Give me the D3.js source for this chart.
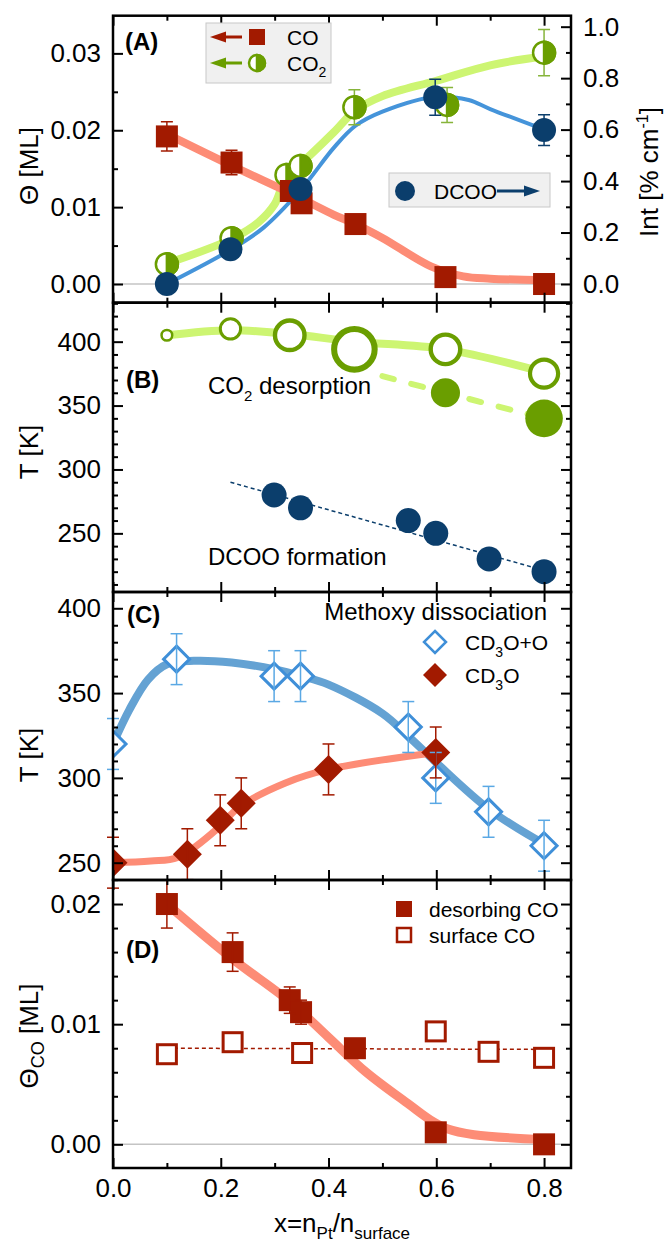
<!DOCTYPE html>
<html>
<head>
<meta charset="utf-8">
<script src="https://cdn.jsdelivr.net/npm/d3@7"></script>
<style>
  body { margin: 0; background: #fff; }
  svg { font-family: "Liberation Sans", Arial, sans-serif; }
</style>
</head>
<body>
<svg id="chart"></svg>
<script>
//Data - panel A (coverage + DCOO intensity)
const coX = [0.1, 0.22, 0.33, 0.35, 0.45, 0.617, 0.8];
const coTheta = [0.0192, 0.0158, 0.0121, 0.0105, 0.0078, 0.0009, 0.0];
const coErr = [0.0019, 0.0016, 0, 0, 0, 0, 0];
const coFitX = [0.1, 0.22, 0.33, 0.41, 0.45, 0.5, 0.59, 0.65, 0.7, 0.8];
const coFitY = [0.0195, 0.0154, 0.0118, 0.0090, 0.0078, 0.0060, 0.0023, 0.0010, 0.0007, 0.0005];

const co2X = [0.1, 0.22, 0.322, 0.348, 0.448, 0.62, 0.8];
const co2Int = [0.077, 0.178, 0.424, 0.459, 0.687, 0.696, 0.899];
const co2Err = [0, 0, 0, 0, 0.068, 0.068, 0.09];
const co2FitX = [0.1, 0.22, 0.27, 0.3, 0.322, 0.35, 0.41, 0.45, 0.5, 0.6, 0.7, 0.8];
const co2FitY = [0.08, 0.175, 0.24, 0.31, 0.42, 0.47, 0.59, 0.675, 0.73, 0.79, 0.85, 0.885];

const dcooX = [0.1, 0.218, 0.348, 0.598, 0.8];
const dcooInt = [0.0, 0.135, 0.369, 0.726, 0.598];
const dcooErr = [0, 0, 0, 0.07, 0.06];
const dcooFitX = [0.1, 0.22, 0.28, 0.35, 0.41, 0.45, 0.5, 0.6, 0.66, 0.7, 0.8];
const dcooFitY = [0.0, 0.135, 0.22, 0.37, 0.53, 0.615, 0.67, 0.728, 0.715, 0.68, 0.6];

//Data - panel B (temperatures)
const co2DesX = [0.1, 0.218, 0.328, 0.448, 0.617, 0.8];
const co2DesT = [405, 410, 405, 394, 394, 375];
const co2DesAmount = [0.08, 0.25, 0.53, 1.0, 0.53, 0.48];
const co2LineT = [405, 409, 406, 400, 394, 376];
const co2Des2X = [0.617, 0.8];
const co2Des2T = [360, 340];
const co2Des2Amount = [0.39, 0.65];
const co2DashX = [0.5, 0.617, 0.8];
const co2DashT = [373, 360, 340];
const dcooFormX = [0.299, 0.348, 0.548, 0.599, 0.698, 0.8];
const dcooFormT = [280, 270, 260, 250, 230, 220];
const dcooFormFitX = [0.218, 0.8];
const dcooFormFitT = [290, 221];

//Data - panel C (methoxy dissociation)
const cd3ooX = [0, 0.118, 0.299, 0.348, 0.548, 0.599, 0.697, 0.8];
const cd3ooT = [320, 370, 360, 360, 330, 300, 280, 260];
const cd3ooErr = [15, 15, 15, 15, 15, 15, 15, 15];
const cd3ooFitX = [0, 0.03, 0.065, 0.1, 0.15, 0.22, 0.3, 0.35, 0.4, 0.5, 0.55, 0.6, 0.7, 0.8];
const cd3ooFitT = [320, 340, 358, 367, 369, 368, 364, 360, 355, 338, 324, 309, 281, 261];
const cd3oX = [0, 0.138, 0.199, 0.238, 0.4, 0.599];
const cd3oT = [250, 255, 275, 285, 305, 315];
const cd3oErr = [15, 15, 15, 15, 15, 15];
const cd3oFitX = [0, 0.07, 0.12, 0.19, 0.235, 0.32, 0.4, 0.6];
const cd3oFitT = [250, 251, 253, 269, 283, 297, 305, 315];

//Data - panel D (CO coverage)
const desCOX = [0.1, 0.222, 0.328, 0.349, 0.449, 0.599, 0.8];
const desCOTheta = [0.02, 0.016, 0.012, 0.011, 0.008, 0.001, 0.0];
const desCOErr = [0.002, 0.0016, 0.0011, 0.001, 0, 0, 0];
const desCOFitX = [0.1, 0.22, 0.33, 0.4, 0.47, 0.55, 0.59, 0.62, 0.67, 0.8];
const desCOFitY = [0.02, 0.0155, 0.0118, 0.0089, 0.0060, 0.0033, 0.0020, 0.0013, 0.0008, 0.0004];
const surfCOX = [0.1, 0.222, 0.351, 0.599, 0.697, 0.8];
const surfCOTheta = [0.0075, 0.0085, 0.0076, 0.0094, 0.0077, 0.0072];
const surfFitX = [0.1, 0.8];
const surfFitY = [0.0080, 0.0079];

//Ticks
const xMajor = [0, 0.2, 0.4, 0.6, 0.8];
const xMinor = [0.1, 0.3, 0.5, 0.7];
const aMajor = [0, 0.01, 0.02, 0.03];
const aMinor = [0.005, 0.015, 0.025];
const aRMajor = [0, 0.2, 0.4, 0.6, 0.8, 1.0];
const aRMinor = [0.1, 0.3, 0.5, 0.7, 0.9];
const tMajor = [250, 300, 350, 400];
const bMinor = d3.range(210, 431, 10).filter(v => v % 50 !== 0);
const cMinor = d3.range(240, 410, 10).filter(v => v % 50 !== 0);
const dMajor = [0, 0.01, 0.02];
const dMinor = [0.002, 0.004, 0.006, 0.008, 0.012, 0.014, 0.016, 0.018];

//Colours
const darkRed = '#a21a00', salmon = '#fd8c76';
const green = '#6a9e00', lightGreen = '#cdf572', greenErr = '#86b43a';
const navy = '#0b3e6c', blueA = '#4594da';
const blueLine = '#64a2d3', blueMark = '#3f8fd8', blueErr = '#5aa8e4';

const W = 664, H = 1243;
const tickFont = 26;
const svg = d3.select('#chart').attr('width', W).attr('height', H);
const plotL = 113, plotR = 571;
const x = d3.scaleLinear().domain([0, 0.85]).range([plotL, plotR]);

const yA = d3.scaleLinear().domain([-0.00243, 0.0349]).range([302.7, 15.7]);
const yAr = d3.scaleLinear().domain([-0.0727, 1.0427]).range([302.7, 15.7]);
const yB = d3.scaleLinear().domain([204.1, 430.5]).range([592, 302.7]);
const yC = d3.scaleLinear().domain([239.8, 409.6]).range([880, 592]);
const yD = d3.scaleLinear().domain([-0.00197, 0.022]).range([1168, 880]);

const pts = (xs, ys) => xs.map((v, i) => [v, ys[i]]);

function styleAxis(g) {
    g.select('.domain').remove();
    g.attr('font-size', tickFont).attr('font-family', '"Liberation Sans", Arial, sans-serif');
    g.selectAll('line').attr('stroke-width', 2);
}

function frame(name, y, major, minor, fmt, rightScale, rMajor, rMinor, rFmt, xLabels) {
    const [bottom, top] = y.range();
    const g = svg.append('g').attr('class', 'frame-' + name);
    g.append('g').attr('transform', `translate(${plotL},0)`)
        .call(d3.axisLeft(y).tickValues(major).tickSize(-10).tickPadding(12).tickFormat(fmt)).call(styleAxis);
    g.append('g').attr('transform', `translate(${plotL},0)`)
        .call(d3.axisLeft(y).tickValues(minor).tickSize(-5).tickFormat('')).call(styleAxis);
    const rs = rightScale || y;
    g.append('g').attr('transform', `translate(${plotR},0)`)
        .call(d3.axisRight(rs).tickValues(rMajor || major).tickSize(-10).tickPadding(12).tickFormat(rFmt || '')).call(styleAxis);
    g.append('g').attr('transform', `translate(${plotR},0)`)
        .call(d3.axisRight(rs).tickValues(rMinor || minor).tickSize(-5).tickFormat('')).call(styleAxis);
    g.append('g').attr('transform', `translate(0,${top})`)
        .call(d3.axisTop(x).tickValues(xMajor).tickSize(-10).tickFormat('')).call(styleAxis);
    g.append('g').attr('transform', `translate(0,${top})`)
        .call(d3.axisTop(x).tickValues(xMinor).tickSize(-5).tickFormat('')).call(styleAxis);
    g.append('g').attr('transform', `translate(0,${bottom})`)
        .call(d3.axisBottom(x).tickValues(xMajor).tickSize(-10).tickPadding(11)
            .tickFormat(xLabels ? d3.format('.1f') : '')).call(styleAxis);
    g.append('g').attr('transform', `translate(0,${bottom})`)
        .call(d3.axisBottom(x).tickValues(xMinor).tickSize(-5).tickFormat('')).call(styleAxis);
    g.append('rect').attr('x', plotL).attr('y', top).attr('width', plotR - plotL).attr('height', bottom - top)
        .attr('fill', 'none').attr('stroke', '#000').attr('stroke-width', 2.5);
    return g;
}

function clipFor(name, y) {
    const [bottom, top] = y.range();
    svg.append('clipPath').attr('id', 'clip-' + name).append('rect')
        .attr('x', plotL).attr('y', top).attr('width', plotR - plotL).attr('height', bottom - top);
    return svg.append('g').attr('clip-path', `url(#clip-${name})`);
}

function line(g, xs, ys, y, color, width, dash) {
    const gen = d3.line().x(d => x(d[0])).y(d => y(d[1])).curve(d3.curveCatmullRom.alpha(0.5));
    return g.append('path').datum(pts(xs, ys)).attr('d', gen).attr('fill', 'none')
        .attr('stroke', color).attr('stroke-width', width)
        .attr('stroke-linecap', dash ? 'round' : 'butt')
        .attr('stroke-linejoin', 'round')
        .attr('stroke-dasharray', dash || null);
}

function errorBars(g, xs, ys, es, y, color, cap) {
    const data = xs.map((v, i) => ({ x: v, y: ys[i], e: es[i] })).filter(d => d.e > 0);
    const eg = g.append('g').attr('stroke', color).attr('stroke-width', 1.5);
    eg.selectAll('line.v').data(data).enter().append('line').attr('class', 'v')
        .attr('x1', d => x(d.x)).attr('x2', d => x(d.x))
        .attr('y1', d => y(d.y - d.e)).attr('y2', d => y(d.y + d.e));
    [-1, 1].forEach(s => {
        eg.selectAll('line.c' + (s + 1)).data(data).enter().append('line').attr('class', 'c' + (s + 1))
            .attr('x1', d => x(d.x) - cap).attr('x2', d => x(d.x) + cap)
            .attr('y1', d => y(d.y + s * d.e)).attr('y2', d => y(d.y + s * d.e));
    });
}

function squares(g, xs, ys, y, size, fill, stroke, sw) {
    g.selectAll(null).data(pts(xs, ys)).enter().append('rect')
        .attr('x', d => x(d[0]) - size / 2).attr('y', d => y(d[1]) - size / 2)
        .attr('width', size).attr('height', size)
        .attr('fill', fill).attr('stroke', stroke || 'none').attr('stroke-width', sw || 0);
}

function circles(g, xs, ys, y, r, fill, stroke, sw) {
    g.selectAll(null).data(pts(xs, ys)).enter().append('circle')
        .attr('cx', d => x(d[0])).attr('cy', d => y(d[1])).attr('r', r)
        .attr('fill', fill).attr('stroke', stroke || 'none').attr('stroke-width', sw || 0);
}

const diamondPath = h => `M0,${-h}L${h},0L0,${h}L${-h},0Z`;
function diamonds(g, xs, ys, y, h, fill, stroke, sw) {
    g.selectAll(null).data(pts(xs, ys)).enter().append('path')
        .attr('transform', d => `translate(${x(d[0])},${y(d[1])})`)
        .attr('d', diamondPath(h))
        .attr('fill', fill).attr('stroke', stroke || 'none').attr('stroke-width', sw || 0);
}

function halfCircle(g, cx, cy, r) {
    g.append('circle').attr('cx', cx).attr('cy', cy).attr('r', r)
        .attr('fill', '#fff').attr('stroke', green).attr('stroke-width', 2.5);
    g.append('path').attr('d', `M${cx},${cy - r}A${r},${r} 0 0 1 ${cx},${cy + r}Z`)
        .attr('fill', green).attr('stroke', green).attr('stroke-width', 2.5);
}

function arrow(g, x1, x2, cy, color) {
    const dir = Math.sign(x2 - x1);
    g.append('line').attr('x1', x1).attr('x2', x2 - dir * 12).attr('y1', cy).attr('y2', cy)
        .attr('stroke', color).attr('stroke-width', 3);
    g.append('path').attr('d', `M${x2},${cy}L${x2 - dir * 16},${cy - 5.5}L${x2 - dir * 16},${cy + 5.5}Z`)
        .attr('fill', color);
}

function label(text, px, py, size, weight) {
    return svg.append('text').attr('x', px).attr('y', py).attr('font-size', size)
        .attr('font-weight', weight || null).text(text);
}

function zeroLine(y) {
    svg.append('line').attr('x1', plotL).attr('x2', plotR).attr('y1', y(0)).attr('y2', y(0))
        .attr('stroke', '#c4c4c4').attr('stroke-width', 1.5);
}

// ---------- Panel A ----------
zeroLine(yA);
const gA = clipFor('A', yA);
line(gA, dcooFitX, dcooFitY, yAr, blueA, 4);
line(gA, co2FitX, co2FitY, yAr, lightGreen, 8);
line(gA, coFitX, coFitY, yA, salmon, 8);
errorBars(gA, co2X, co2Int, co2Err, yAr, greenErr, 6);
co2X.forEach((v, i) => halfCircle(gA, x(v), yAr(co2Int[i]), 11));
errorBars(gA, coX, coTheta, coErr, yA, darkRed, 6);
squares(gA, coX, coTheta, yA, 22, darkRed);
errorBars(gA, dcooX, dcooInt, dcooErr, yAr, navy, 6);
circles(gA, dcooX, dcooInt, yAr, 12, navy);
frame('A', yA, aMajor, aMinor, d3.format('.2f'), yAr, aRMajor, aRMinor, d3.format('.1f'));

// legend A
const legA = svg.append('g');
legA.append('rect').attr('x', 206).attr('y', 23).attr('width', 125).attr('height', 60)
    .attr('fill', '#f0f0f0').attr('stroke', '#c8c8c8');
arrow(legA, 242, 210, 37, darkRed);
legA.append('rect').attr('x', 249).attr('y', 29).attr('width', 16).attr('height', 16).attr('fill', darkRed);
legA.append('text').attr('x', 287).attr('y', 44.5).attr('font-size', 21).text('CO');
arrow(legA, 242, 210, 63, green);
halfCircle(legA, 257, 63, 8);
const tCO2 = legA.append('text').attr('x', 287).attr('y', 70.5).attr('font-size', 21).text('CO');
tCO2.append('tspan').attr('font-size', 14).attr('dy', 6).text('2');

const legA2 = svg.append('g');
legA2.append('rect').attr('x', 389).attr('y', 173).attr('width', 161).attr('height', 34)
    .attr('fill', '#f0f0f0').attr('stroke', '#c8c8c8');
legA2.append('circle').attr('cx', 405).attr('cy', 191).attr('r', 10).attr('fill', navy);
legA2.append('text').attr('x', 434).attr('y', 198.5).attr('font-size', 21).text('DCOO');
arrow(legA2, 497, 540, 191, navy);

// ---------- Panel B ----------
const gB = clipFor('B', yB);
const rScale = d3.scaleSqrt().domain([0, 1]).range([0, 23.3]);
line(gB, co2DesX, co2LineT, yB, lightGreen, 8);
line(gB, co2DashX, co2DashT, yB, lightGreen, 6, '12,18');
line(gB, dcooFormFitX, dcooFormFitT, yB, navy, 1.5, '4,3').attr('stroke-linecap', 'butt');
gB.selectAll(null).data(co2DesX.map((v, i) => ({ x: v, t: co2DesT[i], a: co2DesAmount[i] })))
    .enter().append('circle')
    .attr('cx', d => x(d.x)).attr('cy', d => yB(d.t))
    .attr('r', d => rScale(d.a) - Math.max(2.5, rScale(d.a) * 0.26) / 2)
    .attr('fill', '#fff').attr('stroke', green)
    .attr('stroke-width', d => Math.max(2.5, rScale(d.a) * 0.26));
gB.selectAll(null).data(co2Des2X.map((v, i) => ({ x: v, t: co2Des2T[i], a: co2Des2Amount[i] })))
    .enter().append('circle')
    .attr('cx', d => x(d.x)).attr('cy', d => yB(d.t)).attr('r', d => rScale(d.a))
    .attr('fill', green);
circles(gB, dcooFormX, dcooFormT, yB, 12.5, navy);
frame('B', yB, tMajor, bMinor, d3.format('d'));
const tDes = label('CO', 208, 394, 24);
tDes.append('tspan').attr('font-size', 15).attr('dy', 7).text('2');
tDes.append('tspan').attr('dy', -7).text(' desorption');
label('DCOO formation', 208, 565, 24);

// ---------- Panel C ----------
const gC = clipFor('C', yC);
line(gC, cd3ooFitX, cd3ooFitT, yC, blueLine, 8);
line(gC, cd3oFitX, cd3oFitT, yC, salmon, 7);
errorBars(svg, cd3ooX, cd3ooT, cd3ooErr, yC, blueErr, 6);
diamonds(gC, cd3ooX, cd3ooT, yC, 13, '#fff', blueMark, 3);
errorBars(svg, cd3oX, cd3oT, cd3oErr, yC, darkRed, 6);
diamonds(gC, cd3oX, cd3oT, yC, 14.5, darkRed);
frame('C', yC, tMajor, cMinor, d3.format('d'));
label('Methoxy dissociation', 547, 620, 24).attr('text-anchor', 'end');
const legC = svg.append('g');
legC.append('path').attr('transform', 'translate(435,642)').attr('d', diamondPath(11))
    .attr('fill', '#fff').attr('stroke', blueMark).attr('stroke-width', 2.5);
legC.append('path').attr('transform', 'translate(435,675)').attr('d', diamondPath(12)).attr('fill', darkRed);
const tC1 = legC.append('text').attr('x', 465).attr('y', 650).attr('font-size', 21).text('CD');
tC1.append('tspan').attr('font-size', 14).attr('dy', 7).text('3');
tC1.append('tspan').attr('dy', -7).text('O+O');
const tC2 = legC.append('text').attr('x', 465).attr('y', 683).attr('font-size', 21).text('CD');
tC2.append('tspan').attr('font-size', 14).attr('dy', 7).text('3');
tC2.append('tspan').attr('dy', -7).text('O');

// ---------- Panel D ----------
zeroLine(yD);
const gD = clipFor('D', yD);
line(gD, surfFitX, surfFitY, yD, darkRed, 1.5, '4,3').attr('stroke-linecap', 'butt');
line(gD, desCOFitX, desCOFitY, yD, salmon, 9);
squares(gD, surfCOX, surfCOTheta, yD, 19, '#fff', darkRed, 3);
errorBars(svg, desCOX, desCOTheta, desCOErr, yD, darkRed, 6);
squares(gD, desCOX, desCOTheta, yD, 22, darkRed);
frame('D', yD, dMajor, dMinor, d3.format('.2f'), null, null, null, null, true);
const legD = svg.append('g');
legD.append('rect').attr('x', 396).attr('y', 901).attr('width', 16).attr('height', 16).attr('fill', darkRed);
legD.append('rect').attr('x', 397).attr('y', 928).attr('width', 14).attr('height', 14)
    .attr('fill', '#fff').attr('stroke', darkRed).attr('stroke-width', 2.5);
legD.append('text').attr('x', 429).attr('y', 916.5).attr('font-size', 21).text('desorbing CO');
legD.append('text').attr('x', 429).attr('y', 942.5).attr('font-size', 21).text('surface CO');

// panel letters
label('(A)', 125, 50, 24, 'bold');
label('(B)', 126, 388, 24, 'bold');
label('(C)', 127, 623, 24, 'bold');
label('(D)', 126, 958, 24, 'bold');

// axis titles
function vTitle(px, py) {
    return svg.append('text').attr('transform', `translate(${px},${py}) rotate(-90)`)
        .attr('text-anchor', 'middle').attr('font-size', tickFont);
}
vTitle(38, 166).text('Θ [ML]');
vTitle(38, 452).text('T [K]');
vTitle(38, 755).text('T [K]');
const tD = vTitle(38, 1036).text('Θ');
tD.append('tspan').attr('font-size', 18).attr('dy', 6).text('CO');
tD.append('tspan').attr('dy', -6).text(' [ML]');
const tR = vTitle(658, 172).text('Int [% cm');
tR.append('tspan').attr('font-size', 16).attr('dy', -10).text('-1');
tR.append('tspan').attr('dy', 10).text(']');

const tX = svg.append('text').attr('x', 342).attr('y', 1232).attr('text-anchor', 'middle')
    .attr('font-size', tickFont).text('x=n');
tX.append('tspan').attr('font-size', 17).attr('dy', 7).text('Pt');
tX.append('tspan').attr('dy', -7).text('/n');
tX.append('tspan').attr('font-size', 17).attr('dy', 7).text('surface');
</script>
</body>
</html>
